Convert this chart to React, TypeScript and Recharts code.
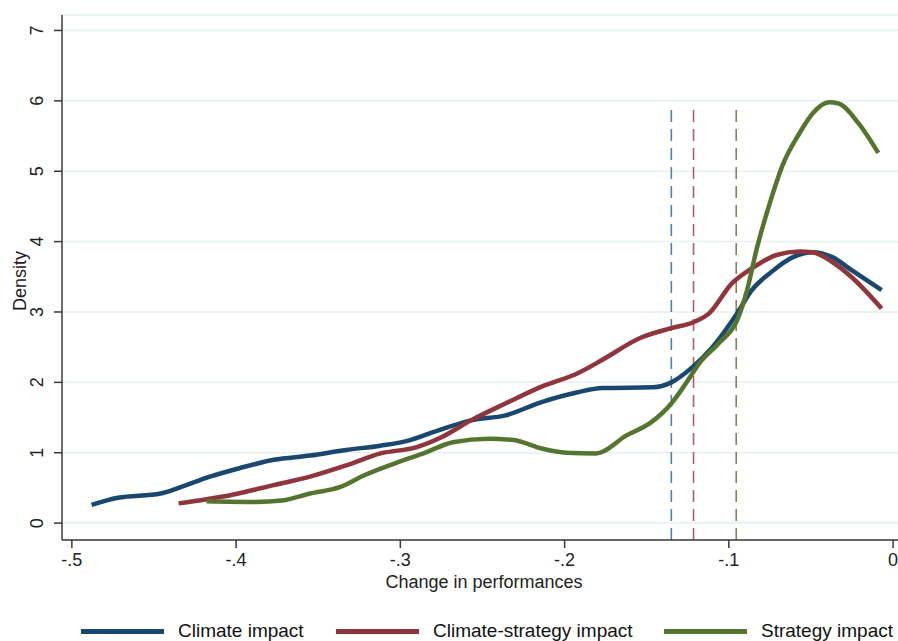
import { LineChart, Line, XAxis, YAxis, CartesianGrid, ReferenceLine, Legend } from "recharts";

const climateX = [-0.488, -0.472, -0.446, -0.435, -0.416, -0.398, -0.377, -0.355, -0.333, -0.312, -0.294, -0.279, -0.257, -0.236, -0.214, -0.192, -0.177, -0.146, -0.135, -0.122, -0.11, -0.095, -0.086, -0.074, -0.061, -0.049, -0.037, -0.025, -0.007];
const climateY = [0.26, 0.36, 0.42, 0.5, 0.66, 0.78, 0.9, 0.96, 1.04, 1.1, 1.18, 1.3, 1.46, 1.53, 1.72, 1.86, 1.92, 1.93, 2.0, 2.22, 2.5, 2.98, 3.31, 3.57, 3.78, 3.85, 3.78, 3.59, 3.31];

const mixedX = [-0.435, -0.403, -0.377, -0.355, -0.333, -0.312, -0.29, -0.275, -0.257, -0.236, -0.214, -0.192, -0.177, -0.154, -0.135, -0.122, -0.112, -0.098, -0.086, -0.071, -0.057, -0.049, -0.037, -0.025, -0.007];
const mixedY = [0.28, 0.4, 0.54, 0.66, 0.82, 0.99, 1.08, 1.22, 1.46, 1.7, 1.94, 2.13, 2.32, 2.63, 2.77, 2.85, 2.98, 3.41, 3.62, 3.81, 3.86, 3.85, 3.71, 3.49, 3.05];

const strategyX = [-0.418, -0.388, -0.372, -0.355, -0.337, -0.322, -0.301, -0.286, -0.268, -0.246, -0.231, -0.214, -0.199, -0.181, -0.162, -0.148, -0.135, -0.126, -0.118, -0.106, -0.095, -0.089, -0.083, -0.075, -0.067, -0.057, -0.049, -0.039, -0.033, -0.021, -0.009];
const strategyY = [0.31, 0.3, 0.32, 0.42, 0.51, 0.68, 0.87, 0.99, 1.15, 1.2, 1.18, 1.06, 1.0, 0.99, 1.25, 1.42, 1.7, 1.99, 2.27, 2.56, 2.88, 3.3, 3.9, 4.55, 5.1, 5.54, 5.82, 5.98, 5.96, 5.68, 5.26];

// means (dashed verticals)
const meanNames = ["Climate impact", "Climate-strategy impact", "Strategy impact"];
const meanValues = [-0.135, -0.1215, -0.0955];
const meanColors = ["#4f80b3", "#b35c6c", "#8e7c58"];

const xTicks = [-0.5, -0.4, -0.3, -0.2, -0.1, 0];
const yTicks = [0, 1, 2, 3, 4, 5, 6, 7];

const series = [
  { name: "Climate impact", xs: climateX, ys: climateY, color: "#1a476f" },
  { name: "Climate-strategy impact", xs: mixedX, ys: mixedY, color: "#90353b" },
  { name: "Strategy impact", xs: strategyX, ys: strategyY, color: "#55752f" },
];

const toRows = (xs: number[], ys: number[]) => xs.map((x, i) => ({ x, y: ys[i] }));

const font = "'Liberation Sans', Arial, sans-serif";
const axisColor = "#3a3a3a";

const fmtX = (v: number) => (v === 0 ? "0" : v.toFixed(1).replace("0.", "."));

const YTick = (props: any) => {
  const { y, payload } = props;
  return (
    <text
      x={43}
      y={y}
      transform={`rotate(-90, 43, ${y})`}
      textAnchor="middle"
      fontSize={18}
      fontFamily={font}
      fill="#222"
    >
      {payload.value}
    </text>
  );
};

const YLabel = () => (
  <text x={26} y={281} transform="rotate(-90, 26, 281)" textAnchor="middle" fontSize={18} fontFamily={font} fill="#222">
    Density
  </text>
);

const LegendBox = () => (
  <div style={{ position: "relative", height: 41, fontFamily: font, fontSize: 19, color: "#111" }}>
    {series.map((s, i) => {
      const lefts = [81, 336, 664];
      return (
        <div key={s.name} style={{ position: "absolute", left: lefts[i], top: 20, display: "flex", alignItems: "center", whiteSpace: "nowrap" }}>
          <div style={{ width: 83, height: 5, background: s.color, marginRight: 14 }} />
          <span>{s.name}</span>
        </div>
      );
    })}
  </div>
);

export default function App() {
  return (
    <div style={{ position: "absolute", left: 0, top: 0, width: 898, height: 641, background: "#fff" }}>
      <LineChart width={898} height={641} margin={{ top: 15, right: 0, left: 0, bottom: 0 }}>
        <CartesianGrid horizontal vertical={false} stroke="#e6eff1" strokeWidth={1.5} />
        <XAxis
          dataKey="x"
          type="number"
          domain={[-0.506, 0.003]}
          ticks={xTicks}
          tickFormatter={fmtX}
          allowDuplicatedCategory={false}
          height={60}
          stroke={axisColor}
          strokeWidth={1.5}
          tickSize={8}
          tick={{ fontSize: 18, fontFamily: font, fill: "#222" }}
          tickMargin={5}
          label={{ value: "Change in performances", position: "insideBottom", offset: 12, dx: 4, fontSize: 18, fontFamily: font, fill: "#222" }}
        />
        <YAxis
          dataKey="y"
          type="number"
          domain={[-0.24, 7.22]}
          ticks={yTicks}
          width={62}
          stroke={axisColor}
          strokeWidth={1.5}
          tickSize={8}
          tick={<YTick />}
          label={<YLabel />}
        />
        <Legend verticalAlign="bottom" height={41} content={<LegendBox />} />
        {meanValues.map((m, i) => (
          <ReferenceLine
            key={meanNames[i]}
            segment={[{ x: m, y: -0.24 }, { x: m, y: 5.9 }]}
            stroke={meanColors[i]}
            strokeWidth={1.6}
            strokeDasharray="12 7"
          />
        ))}
        {series.map((s) => (
          <Line
            key={s.name}
            data={toRows(s.xs, s.ys)}
            dataKey="y"
            name={s.name}
            type="monotone"
            stroke={s.color}
            strokeWidth={4.5}
            dot={false}
            isAnimationActive={false}
          />
        ))}
      </LineChart>
    </div>
  );
}
